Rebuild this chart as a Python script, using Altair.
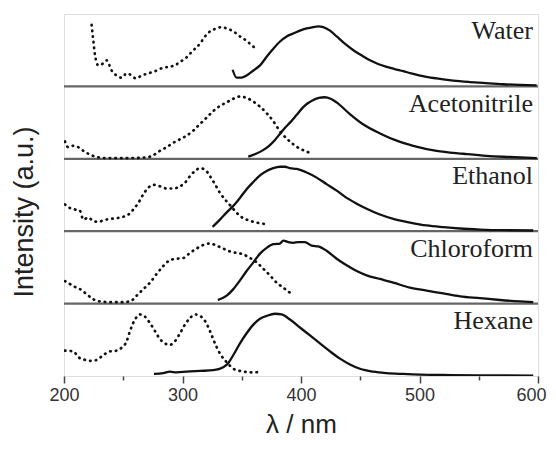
import altair as alt
import pandas as pd

solvents = ["Water", "Acetonitrile", "Ethanol", "Chloroform", "Hexane"]
panel_index = [4, 3, 2, 1, 0]

water_abs_x = [223.3, 224.7, 226.1, 229.0, 233.2, 236.0, 240.2, 244.4, 248.6, 252.9, 257.1, 260.7, 265.5, 271.1, 276.8, 282.4, 288.0, 293.6, 297.9, 302.1, 306.3, 310.5, 314.7, 319.0, 323.2, 328.8, 333.0, 337.3, 342.9, 348.5, 354.1, 358.3, 362.0]
water_abs_y = [0.85, 0.64, 0.44, 0.29, 0.32, 0.36, 0.22, 0.15, 0.12, 0.18, 0.15, 0.11, 0.15, 0.18, 0.21, 0.25, 0.27, 0.29, 0.34, 0.38, 0.45, 0.52, 0.59, 0.69, 0.76, 0.80, 0.82, 0.80, 0.76, 0.69, 0.63, 0.57, 0.52]
water_em_x = [342.3, 345.7, 349.9, 354.1, 359.8, 365.4, 371.0, 376.6, 382.3, 387.9, 393.5, 399.1, 404.8, 410.4, 414.6, 418.8, 424.5, 430.1, 437.0, 444.2, 451.0, 458.2, 465.0, 472.3, 479.0, 486.3, 493.0, 500.4, 514.5, 528.5, 542.6, 556.0, 570.7, 585.0, 598.9]
water_em_y = [0.23, 0.12, 0.12, 0.15, 0.22, 0.29, 0.41, 0.52, 0.62, 0.69, 0.73, 0.77, 0.80, 0.82, 0.83, 0.82, 0.77, 0.69, 0.59, 0.50, 0.43, 0.36, 0.31, 0.27, 0.24, 0.21, 0.18, 0.15, 0.11, 0.08, 0.06, 0.045, 0.03, 0.02, 0.014]

acn_abs_x = [200.8, 203.6, 207.9, 212.1, 216.3, 220.5, 224.7, 229.0, 236.0, 252.9, 269.7, 275.4, 281.0, 286.6, 292.2, 297.9, 303.5, 309.1, 314.7, 320.4, 326.0, 331.6, 337.3, 342.9, 348.5, 354.1, 359.8, 365.4, 371.0, 376.6, 382.3, 387.9, 393.5, 399.1, 404.8, 409.0]
acn_abs_y = [0.24, 0.16, 0.18, 0.16, 0.11, 0.07, 0.04, 0.02, 0.01, 0.01, 0.02, 0.05, 0.11, 0.16, 0.22, 0.27, 0.32, 0.39, 0.48, 0.57, 0.66, 0.73, 0.78, 0.83, 0.86, 0.84, 0.79, 0.72, 0.63, 0.52, 0.38, 0.28, 0.20, 0.14, 0.10, 0.07]
acn_em_x = [355.5, 362.0, 368.0, 373.8, 378.0, 382.0, 386.0, 390.7, 396.0, 401.7, 406.0, 410.0, 415.0, 420.0, 425.0, 430.0, 441.0, 452.0, 466.7, 480.8, 494.7, 514.5, 537.0, 556.7, 576.0, 599.0]
acn_em_y = [0.03, 0.07, 0.12, 0.19, 0.26, 0.34, 0.42, 0.50, 0.60, 0.71, 0.77, 0.81, 0.84, 0.85, 0.83, 0.78, 0.62, 0.48, 0.35, 0.25, 0.18, 0.11, 0.07, 0.04, 0.025, 0.01]

eth_abs_x = [200.8, 205.0, 209.3, 213.5, 216.3, 220.5, 224.7, 229.0, 233.2, 238.8, 244.4, 250.1, 254.3, 258.5, 262.7, 266.9, 271.1, 275.4, 281.0, 286.6, 292.2, 297.9, 302.1, 306.3, 310.5, 314.7, 319.0, 323.2, 327.4, 331.6, 335.8, 340.1, 344.3, 348.5, 354.1, 359.8, 365.4, 369.6]
eth_abs_y = [0.37, 0.32, 0.30, 0.28, 0.16, 0.19, 0.14, 0.13, 0.15, 0.17, 0.18, 0.20, 0.23, 0.30, 0.39, 0.51, 0.60, 0.64, 0.62, 0.59, 0.59, 0.62, 0.67, 0.76, 0.83, 0.87, 0.85, 0.76, 0.65, 0.53, 0.44, 0.36, 0.28, 0.21, 0.16, 0.13, 0.11, 0.10]
eth_em_x = [325.4, 331.6, 337.3, 342.9, 348.5, 354.1, 359.8, 365.4, 371.0, 376.6, 382.3, 386.5, 390.7, 396.3, 404.8, 413.2, 421.6, 430.1, 438.5, 447.0, 455.4, 466.6, 477.9, 492.0, 506.0, 520.1, 534.2, 551.0, 567.9, 596.0]
eth_em_y = [0.06, 0.16, 0.26, 0.35, 0.46, 0.58, 0.68, 0.77, 0.83, 0.87, 0.89, 0.89, 0.87, 0.86, 0.81, 0.74, 0.65, 0.56, 0.46, 0.38, 0.31, 0.23, 0.17, 0.12, 0.08, 0.056, 0.037, 0.023, 0.014, 0.01]

chl_abs_x = [200.8, 205.0, 209.3, 213.5, 219.1, 224.7, 230.4, 238.8, 247.2, 255.7, 261.3, 266.9, 272.6, 278.2, 283.8, 289.4, 295.1, 300.7, 306.3, 311.9, 317.6, 323.2, 328.8, 334.4, 340.1, 345.7, 351.3, 356.9, 362.6, 368.2, 373.8, 379.4, 385.1, 390.7, 393.5]
chl_abs_y = [0.31, 0.27, 0.23, 0.20, 0.13, 0.06, 0.03, 0.02, 0.02, 0.03, 0.11, 0.20, 0.29, 0.41, 0.52, 0.60, 0.62, 0.63, 0.70, 0.76, 0.81, 0.83, 0.80, 0.76, 0.72, 0.70, 0.68, 0.63, 0.57, 0.48, 0.39, 0.29, 0.22, 0.15, 0.12]
chl_em_x = [329.8, 337.3, 342.9, 348.5, 354.1, 359.8, 365.4, 371.0, 376.6, 382.3, 385.1, 389.3, 393.5, 397.7, 403.3, 409.0, 414.6, 421.6, 430.1, 438.5, 447.0, 455.4, 466.6, 477.9, 492.0, 506.0, 520.1, 534.2, 551.0, 567.9, 584.8, 596.0]
chl_em_y = [0.05, 0.11, 0.20, 0.32, 0.45, 0.57, 0.69, 0.77, 0.82, 0.83, 0.87, 0.85, 0.84, 0.85, 0.85, 0.80, 0.79, 0.73, 0.62, 0.53, 0.45, 0.39, 0.34, 0.29, 0.22, 0.18, 0.14, 0.10, 0.075, 0.05, 0.03, 0.02]

hex_abs_x = [200.8, 207.9, 212.1, 216.3, 221.9, 227.5, 233.2, 238.8, 244.4, 248.6, 252.9, 255.7, 259.9, 264.1, 268.3, 272.6, 276.8, 281.0, 285.2, 289.4, 293.6, 297.9, 302.1, 306.3, 310.5, 314.7, 319.0, 323.2, 327.4, 331.6, 337.3, 342.9, 348.5, 354.1, 359.8, 364.8]
hex_abs_y = [0.35, 0.34, 0.26, 0.23, 0.21, 0.22, 0.29, 0.34, 0.35, 0.39, 0.48, 0.62, 0.78, 0.85, 0.82, 0.73, 0.62, 0.51, 0.45, 0.43, 0.48, 0.59, 0.71, 0.80, 0.85, 0.83, 0.76, 0.62, 0.45, 0.31, 0.19, 0.10, 0.07, 0.055, 0.05, 0.055]
hex_em_x = [275.9, 283.8, 289.4, 295.1, 303.5, 314.7, 326.0, 334.4, 338.7, 342.9, 348.5, 354.1, 359.8, 365.4, 371.0, 378.0, 383.7, 390.7, 399.1, 407.6, 416.0, 424.5, 432.9, 441.3, 449.8, 461.0, 472.3, 486.3, 500.4, 520.1, 548.2, 596.0]
hex_em_y = [0.03, 0.04, 0.06, 0.05, 0.06, 0.07, 0.08, 0.12, 0.18, 0.29, 0.45, 0.59, 0.71, 0.79, 0.83, 0.86, 0.85, 0.78, 0.67, 0.56, 0.45, 0.34, 0.24, 0.16, 0.10, 0.06, 0.04, 0.028, 0.019, 0.014, 0.010, 0.005]

abs_x = [water_abs_x, acn_abs_x, eth_abs_x, chl_abs_x, hex_abs_x]
abs_y = [water_abs_y, acn_abs_y, eth_abs_y, chl_abs_y, hex_abs_y]
em_x = [water_em_x, acn_em_x, eth_em_x, chl_em_x, hex_em_x]
em_y = [water_em_y, acn_em_y, eth_em_y, chl_em_y, hex_em_y]

x_ticks = [200, 250, 300, 350, 400, 450, 500, 550, 600]
separators = [1, 2, 3, 4]

rows = []
for name, idx, xs, ys in zip(solvents, panel_index, abs_x, abs_y):
    for i, (a, b) in enumerate(zip(xs, ys)):
        rows.append({"solvent": name, "kind": "abs", "order": i, "wl": a, "val": b + idx})
for name, idx, xs, ys in zip(solvents, panel_index, em_x, em_y):
    for i, (a, b) in enumerate(zip(xs, ys)):
        rows.append({"solvent": name, "kind": "em", "order": i, "wl": a, "val": b + idx})
df = pd.DataFrame(rows)

labels = pd.DataFrame({"name": solvents, "pos": [i + 0.65 for i in panel_index]})
seps = pd.DataFrame({"s": separators})

x_scale = alt.Scale(domain=[200, 600], nice=False, zero=False)
y_scale = alt.Scale(domain=[0, 5], nice=False, zero=False)

x_axis = alt.Axis(
    values=x_ticks,
    labelExpr="datum.value % 100 == 0 ? datum.label : ''",
    tickSize={"condition": {"test": "datum.value % 100 != 0", "value": 4}, "value": 7},
    labelOffset={"condition": {"test": "datum.value == 600", "value": -7}, "value": 0},
    tickColor="#444", tickWidth=1.5, domain=False, grid=False,
    labelFlush=False, labelOverlap=False,
    labelFont="Liberation Sans", labelFontSize=18, labelColor="#333", labelPadding=3,
    title="λ / nm", titleFont="Liberation Sans", titleFontSize=26, titleFontWeight="normal",
    titleColor="#222", titleBaseline="alphabetic", titleY=56,
)
y_axis = alt.Axis(
    labels=False, ticks=False, domain=False, grid=False,
    title="Intensity (a.u.)", titleFont="Liberation Sans", titleFontSize=27,
    titleFontWeight="normal", titleColor="#222", titleAngle=270,
    titleBaseline="alphabetic", titleAlign="center", titleX=-32, titleY=197.5,
)

base = alt.Chart(df)
abs_lines = base.transform_filter(alt.datum.kind == "abs").mark_line(
    color="#111", strokeWidth=2.7, strokeDash=[0.5, 5.2], strokeCap="round",
    interpolate="monotone", clip=True,
).encode(
    x=alt.X("wl:Q", scale=x_scale, axis=x_axis),
    y=alt.Y("val:Q", scale=y_scale, axis=y_axis),
    detail="solvent:N",
    order="order:Q",
)
em_lines = base.transform_filter(alt.datum.kind == "em").mark_line(
    color="#111", strokeWidth=2.3, interpolate="monotone", clip=True,
).encode(
    x=alt.X("wl:Q", scale=x_scale),
    y=alt.Y("val:Q", scale=y_scale),
    detail="solvent:N",
    order="order:Q",
)
rules = alt.Chart(seps).mark_rule(color="#666", strokeWidth=2.2).encode(
    y=alt.Y("s:Q", scale=y_scale)
)
texts = alt.Chart(labels).mark_text(
    align="right", baseline="alphabetic", font="Liberation Serif",
    fontSize=26, color="#222", dx=-5,
).encode(
    x=alt.datum(600),
    y=alt.Y("pos:Q", scale=y_scale),
    text="name:N",
)

chart = alt.layer(rules, abs_lines, em_lines, texts).properties(
    width=474, height=362,
    autosize=alt.AutoSizeParams(type="none"),
    padding={"left": 56, "top": 6, "right": 10, "bottom": 62},
).configure_view(stroke="#666", strokeWidth=2.2).configure(background="white")

chart.save("out.html", embed_options={"renderer": "svg", "actions": False})
